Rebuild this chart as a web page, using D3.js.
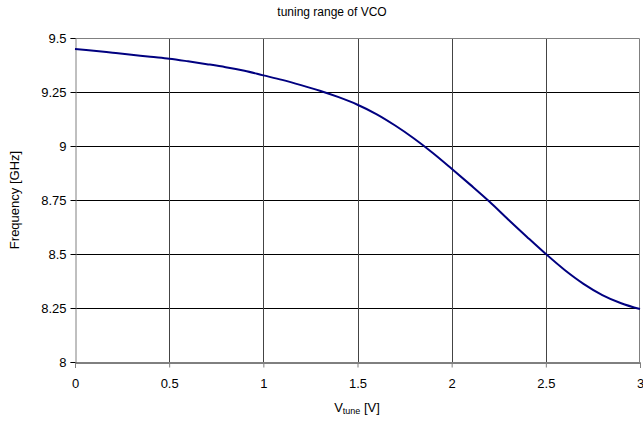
<!DOCTYPE html>
<html lang="en">
<head>
    <meta charset="UTF-8">
    <title>tuning range of VCO</title>
    <script src="https://cdnjs.cloudflare.com/ajax/libs/d3/7.8.5/d3.min.js"></script>
    <style>
        * { margin: 0; padding: 0; }
        body { background: #fff; font-family: "Liberation Sans", Arial, sans-serif; }
        svg text { fill: #000; }
    </style>
</head>
<body>
    <div id="chart"></div>
    <script>
        // values
        const vtune = [0, 0.1, 0.2, 0.3, 0.4, 0.5, 0.6, 0.7, 0.8, 0.9, 1.0,
                       1.1, 1.2, 1.3, 1.4, 1.5, 1.6, 1.7, 1.8, 1.9, 2.0,
                       2.1, 2.2, 2.3, 2.4, 2.5, 2.6, 2.7, 2.8, 2.9, 3.0];
        const freq = [9.449, 9.441, 9.432, 9.423, 9.413, 9.404, 9.392, 9.379, 9.365, 9.348, 9.327,
                      9.306, 9.282, 9.256, 9.226, 9.191, 9.148, 9.095, 9.035, 8.968, 8.895,
                      8.82, 8.743, 8.66, 8.579, 8.5, 8.426, 8.362, 8.31, 8.272, 8.245];
        const xTicks = [0, 0.5, 1, 1.5, 2, 2.5, 3];
        const yTicks = [8, 8.25, 8.5, 8.75, 9, 9.25, 9.5];

        const width = 643, height = 421;
        const margin = { top: 38, right: 3, bottom: 59, left: 75 };

        const svg = d3.select('#chart').append('svg')
            .attr('width', width)
            .attr('height', height);

        const x = d3.scaleLinear().domain([0, 3]).range([margin.left, width - margin.right]);
        const y = d3.scaleLinear().domain([8, 9.5]).range([height - margin.bottom, margin.top]);

        // grid
        svg.append('g')
            .selectAll('line')
            .data(yTicks.slice(1, -1))
            .join('line')
            .attr('x1', x(0)).attr('x2', x(3))
            .attr('y1', d => Math.round(y(d)) + 0.5)
            .attr('y2', d => Math.round(y(d)) + 0.5)
            .attr('stroke', '#000');

        svg.append('g')
            .selectAll('line')
            .data(xTicks.slice(1, -1))
            .join('line')
            .attr('x1', d => Math.round(x(d)) + 0.5)
            .attr('x2', d => Math.round(x(d)) + 0.5)
            .attr('y1', y(9.5)).attr('y2', y(8))
            .attr('stroke', '#444');

        // plot border (top / right)
        svg.append('path')
            .attr('d', `M${x(0)},${Math.round(y(9.5)) + 0.5}H${Math.round(x(3)) - 0.5}V${y(8)}`)
            .attr('fill', 'none')
            .attr('stroke', '#808080');

        // axes
        const yAxis = svg.append('g')
            .attr('transform', `translate(${Math.round(x(0)) + 0.5},0)`)
            .call(d3.axisLeft(y).tickValues(yTicks).tickSize(5).tickPadding(4).tickFormat(d => d));
        yAxis.select('.domain').attr('stroke', '#808080');
        yAxis.selectAll('.tick line').attr('stroke', '#000');

        const xAxis = svg.append('g')
            .attr('transform', `translate(0,${Math.round(y(8)) + 0.5})`)
            .call(d3.axisBottom(x).tickValues(xTicks).tickSize(5).tickPadding(11).tickFormat(d => d));
        xAxis.select('.domain').attr('stroke', '#000');
        xAxis.selectAll('.tick line').attr('stroke', '#808080');

        svg.selectAll('.tick text')
            .attr('font-family', '"Liberation Sans", Arial, sans-serif')
            .attr('font-size', 13);

        // curve
        const pts = vtune.map((v, i) => [v, freq[i]]);
        svg.append('path')
            .datum(pts)
            .attr('fill', 'none')
            .attr('stroke', '#000080')
            .attr('stroke-width', 2)
            .attr('d', d3.line().x(d => x(d[0])).y(d => y(d[1])).curve(d3.curveCatmullRom));

        // titles
        svg.append('text')
            .attr('x', 332).attr('y', 16)
            .attr('text-anchor', 'middle')
            .attr('font-size', 12)
            .text('tuning range of VCO');

        const xt = svg.append('text')
            .attr('x', 357).attr('y', 412)
            .attr('text-anchor', 'middle')
            .attr('font-size', 13);
        xt.append('tspan').text('V');
        xt.append('tspan').attr('font-size', 9).attr('dy', 2).text('tune');
        xt.append('tspan').attr('dy', -2).text(' [V]');

        svg.append('text')
            .attr('transform', `translate(19,${(y(8) + y(9.5)) / 2}) rotate(-90)`)
            .attr('text-anchor', 'middle')
            .attr('font-size', 13)
            .text('Frequency [GHz]');
    </script>
</body>
</html>
